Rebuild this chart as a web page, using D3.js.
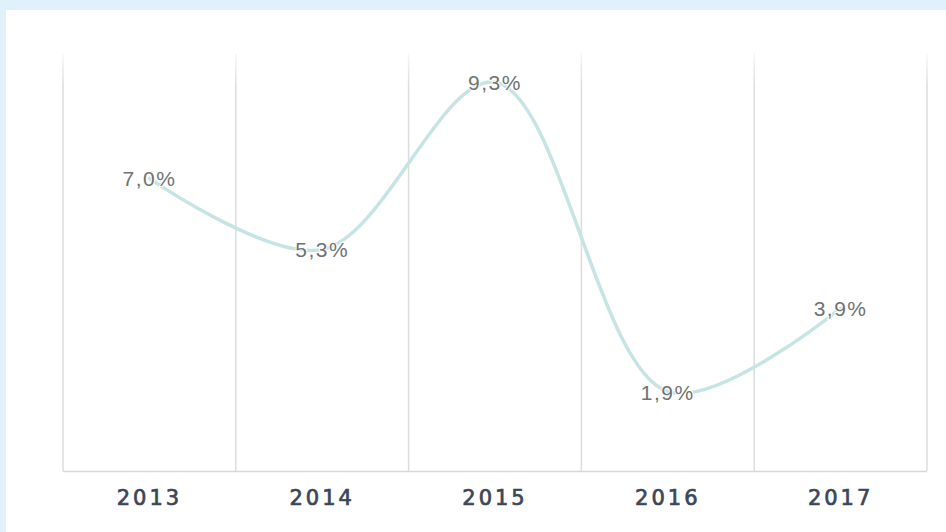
<!DOCTYPE html>
<html>
<head>
<meta charset="utf-8">
<script src="https://cdn.jsdelivr.net/npm/d3@7"></script>
<style>
  body { margin: 0; background: #ffffff; }
  svg { display: block; }
</style>
</head>
<body>
<div id="chart"></div>
<script>
// chart data
let years = ["2013", "2014", "2015", "2016", "2017"];
let growth = [7.0, 5.3, 9.3, 1.9, 3.9];
let valueLabels = ["7,0%", "5,3%", "9,3%", "1,9%", "3,9%"];

let width = 946;
let height = 532;
let margin = {left: 63, right: 19, top: 53, bottom: 61};

let svg = d3.select("#chart").append("svg")
    .attr("width", width)
    .attr("height", height);

// light blue frame round the white panel
svg.append("rect").attr("x", 0).attr("y", 0).attr("width", width).attr("height", height).attr("fill", "#e0f1fb");
svg.append("rect").attr("x", 6).attr("y", 10).attr("width", width - 6).attr("height", height - 10).attr("fill", "#ffffff");

let defs = svg.append("defs");
let grad = defs.append("linearGradient").attr("id", "gridFade")
    .attr("x1", 0).attr("y1", 0).attr("x2", 0).attr("y2", 1);
grad.append("stop").attr("offset", "0%").attr("stop-color", "#dcdcdc").attr("stop-opacity", 0.2);
grad.append("stop").attr("offset", "8%").attr("stop-color", "#dcdcdc").attr("stop-opacity", 1);
grad.append("stop").attr("offset", "100%").attr("stop-color", "#dcdcdc").attr("stop-opacity", 1);

let x = d3.scaleBand().domain(years).range([margin.left, width - margin.right]).padding(0);
let y = d3.scaleLinear().domain([0, 10]).range([height - margin.bottom, margin.top]);

let chartGroup = svg.append("g");

// vertical grid lines at band edges
let edges = years.map(function(d){ return x(d); });
edges.push(x(years[years.length - 1]) + x.bandwidth());
chartGroup.selectAll(".grid").data(edges).enter().append("rect")
    .attr("x", function(d){ return d - 0.75; })
    .attr("y", y(10))
    .attr("width", 1.5)
    .attr("height", y(0) - y(10))
    .attr("fill", "url(#gridFade)");

// baseline
chartGroup.append("line")
    .attr("x1", x.range()[0]).attr("x2", x.range()[1])
    .attr("y1", y(0) + 0.5).attr("y2", y(0) + 0.5)
    .attr("stroke", "#d3d8dc").attr("stroke-width", 1.5);

// year labels
let xAxis = d3.axisBottom(x).tickSize(0).tickPadding(19);
let axisG = chartGroup.append("g")
    .attr("transform", "translate(0," + y(0) + ")")
    .call(xAxis);
axisG.select(".domain").remove();
axisG.selectAll("text")
    .attr("font-family", "'DejaVu Sans', Verdana, sans-serif")
    .attr("font-size", 21)
    .attr("letter-spacing", 3)
    .attr("fill", "#3b4657")
    .attr("stroke", "#3b4657")
    .attr("stroke-width", 0.7);

let points = years.map(function(d, i){ return {year: d, value: growth[i], label: valueLabels[i]}; });

let line = d3.line()
    .x(function(d){ return x(d.year) + x.bandwidth() / 2; })
    .y(function(d){ return y(d.value); })
    .curve(d3.curveCatmullRom.alpha(0.5));

chartGroup.append("path")
    .attr("d", line(points))
    .attr("fill", "none")
    .attr("stroke", "#c5e4e3")
    .attr("stroke-width", 3.5)
    .attr("stroke-linecap", "round");

chartGroup.selectAll(".vlabel").data(points).enter().append("text")
    .text(function(d){ return d.label; })
    .attr("x", function(d){ return x(d.year) + x.bandwidth() / 2; })
    .attr("y", function(d){ return y(d.value); })
    .attr("dy", "0.38em")
    .attr("text-anchor", "middle")
    .attr("font-family", "'Liberation Sans', Arial, sans-serif")
    .attr("font-size", 21)
    .attr("letter-spacing", 1.5)
    .attr("fill", "#6e7272")
    .attr("stroke", "#ffffff")
    .attr("stroke-width", 2)
    .attr("paint-order", "stroke");
</script>
</body>
</html>
